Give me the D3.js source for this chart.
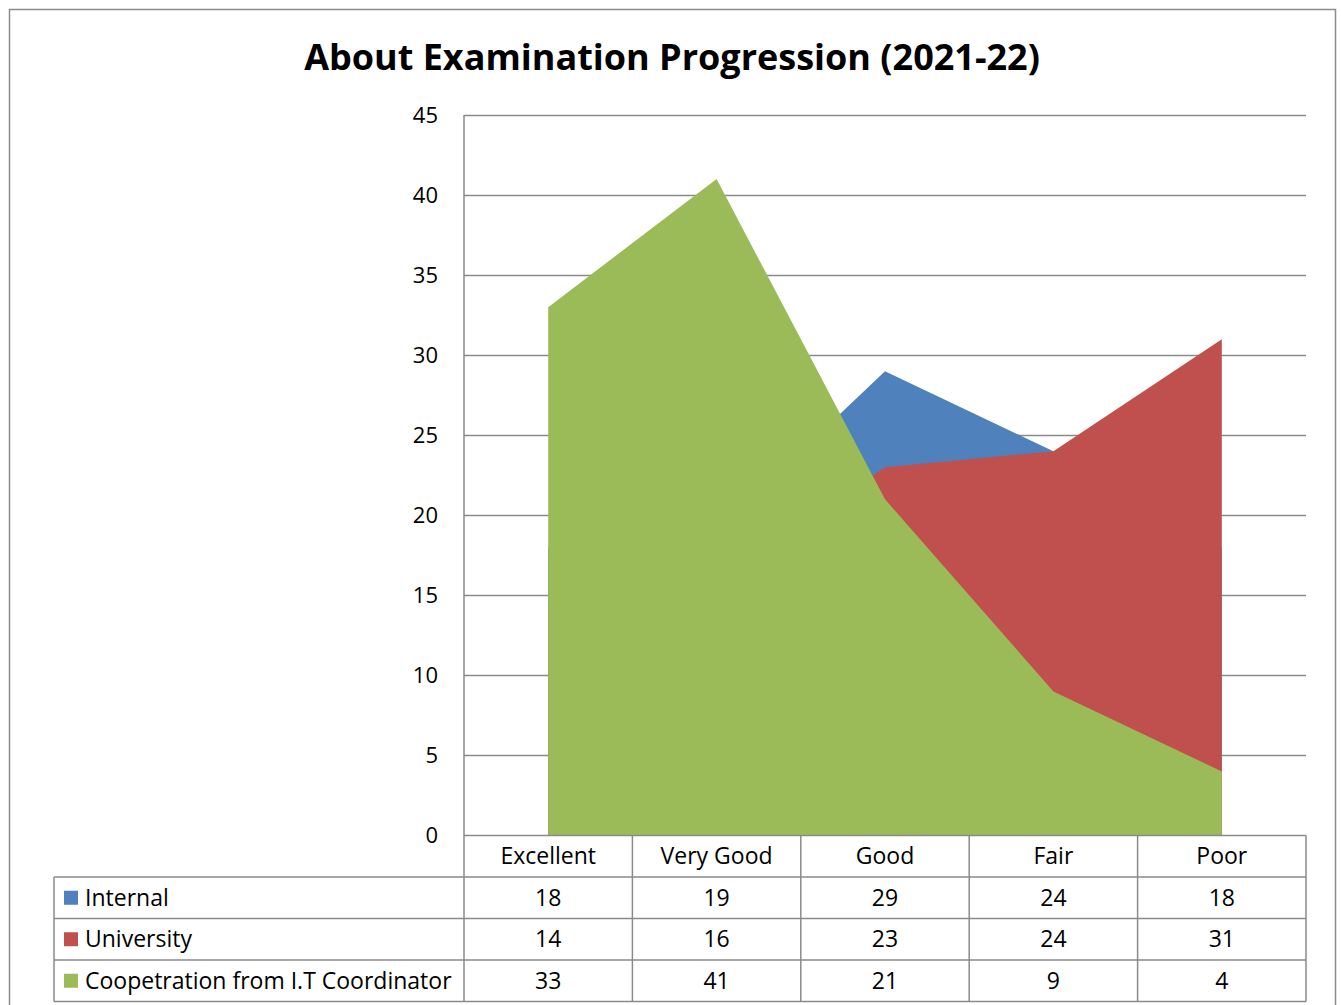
<!DOCTYPE html>
<html>
<head>
<meta charset="utf-8">
<script src="https://cdn.jsdelivr.net/npm/d3@7"></script>
<style>
  body { margin: 0; background: #fff; }
  text { font-family: "Open Sans", Lato, sans-serif; fill: #000; }
</style>
</head>
<body>
<div id="chart"></div>
<script>
const categories = ['Excellent', 'Very Good', 'Good', 'Fair', 'Poor'];
const seriesNames = ['Internal', 'University', 'Coopetration from I.T Coordinator'];
const internalValues = [18, 19, 29, 24, 18];
const universityValues = [14, 16, 23, 24, 31];
const coordinatorValues = [33, 41, 21, 9, 4];
const yTicks = [0, 5, 10, 15, 20, 25, 30, 35, 40, 45];
const colours = ['#4F81BD', '#C0504D', '#9BBB59'];

const width = 1341;
const height = 1005;
const plotLeft = 464;
const plotRight = 1306;
const plotTop = 115;
const plotBottom = 835.5;
const rowHeight = 41.5;
const tableLeft = 54;
const gridColour = '#8a8a8a';
const fontSize = '23px';

const series = [internalValues, universityValues, coordinatorValues].map((vals, i) => ({
     name: seriesNames[i],
     colour: colours[i],
     values: vals
}));

const svg = d3.select('#chart')
     .append('svg')
          .attr('width', width)
          .attr('height', height);

// outer frame
svg.append('rect')
     .attr('x', 9.5).attr('y', 9.5)
     .attr('width', 1326).attr('height', 1010)
     .attr('fill', 'none')
     .attr('stroke', '#8c8c8c')
     .attr('stroke-width', 1.5);

// title
svg.append('text')
     .attr('x', 672)
     .attr('y', 70)
     .attr('text-anchor', 'middle')
     .style('font-size', '36px')
     .style('font-weight', 'bold')
     .text('About Examination Progression (2021-22)');

const xScale = d3.scaleBand()
     .domain(categories)
     .range([plotLeft, plotRight]);

const yScale = d3.scaleLinear()
     .domain([0, 45])
     .range([plotBottom, plotTop]);

const xCenter = (c) => xScale(c) + xScale.bandwidth() / 2;

// gridlines
svg.append('g')
     .selectAll('line')
     .data(yTicks.filter(t => t > 0))
     .enter()
     .append('line')
          .attr('x1', plotLeft).attr('x2', plotRight)
          .attr('y1', d => Math.round(yScale(d)) + 0.5)
          .attr('y2', d => Math.round(yScale(d)) + 0.5)
          .attr('stroke', gridColour)
          .attr('stroke-width', 1.5);

// y axis labels
const yAxis = svg.append('g')
     .attr('transform', `translate(${plotLeft}, 0)`)
     .call(d3.axisLeft(yScale).tickValues(yTicks).tickSize(0).tickPadding(26));
yAxis.select('.domain').remove();
yAxis.selectAll('text')
     .style('font-size', '22px')
     .style('font-family', '"Open Sans", Lato, sans-serif')
     .attr('dy', '0.32em');

// areas
const area = d3.area()
     .x((d, i) => xCenter(categories[i]))
     .y0(yScale(0))
     .y1(d => yScale(d));

svg.append('g')
     .selectAll('path')
     .data(series)
     .enter()
     .append('path')
          .attr('d', d => area(d.values))
          .attr('fill', d => d.colour);

// data table
const table = svg.append('g');
const rowTop = (r) => plotBottom + r * rowHeight;

// horizontal lines
table.append('line')
     .attr('x1', plotLeft).attr('x2', plotRight)
     .attr('y1', rowTop(0)).attr('y2', rowTop(0))
     .attr('stroke', gridColour).attr('stroke-width', 1.5);
for (let r = 1; r <= 4; r++) {
     table.append('line')
          .attr('x1', tableLeft).attr('x2', plotRight)
          .attr('y1', rowTop(r)).attr('y2', rowTop(r))
          .attr('stroke', gridColour).attr('stroke-width', 1.5);
}

// vertical lines
table.append('line')
     .attr('x1', plotLeft).attr('x2', plotLeft)
     .attr('y1', plotTop).attr('y2', rowTop(4))
     .attr('stroke', gridColour).attr('stroke-width', 1.5);
table.append('line')
     .attr('x1', tableLeft).attr('x2', tableLeft)
     .attr('y1', rowTop(1)).attr('y2', rowTop(4))
     .attr('stroke', gridColour).attr('stroke-width', 1.5);
categories.forEach(c => {
     const x = xScale(c) + xScale.bandwidth();
     table.append('line')
          .attr('x1', x).attr('x2', x)
          .attr('y1', rowTop(0)).attr('y2', rowTop(4))
          .attr('stroke', gridColour).attr('stroke-width', 1.5);
});

// category header
table.selectAll('.cat')
     .data(categories)
     .enter()
     .append('text')
          .attr('class', 'cat')
          .attr('x', d => xCenter(d))
          .attr('y', rowTop(0) + rowHeight / 2)
          .attr('dy', '0.35em')
          .attr('text-anchor', 'middle')
          .style('font-size', fontSize)
          .text(d => d);

// series rows
series.forEach((s, r) => {
     const yMid = rowTop(r + 1) + rowHeight / 2;
     table.append('rect')
          .attr('x', 64).attr('y', yMid - 7)
          .attr('width', 14).attr('height', 14)
          .attr('fill', s.colour);
     table.append('text')
          .attr('x', 85)
          .attr('y', yMid)
          .attr('dy', '0.35em')
          .style('font-size', fontSize)
          .text(s.name);
     table.selectAll(null)
          .data(s.values)
          .enter()
          .append('text')
               .attr('x', (d, i) => xCenter(categories[i]))
               .attr('y', yMid)
               .attr('dy', '0.35em')
               .attr('text-anchor', 'middle')
               .style('font-size', fontSize)
               .text(d => d);
});
</script>
</body>
</html>
